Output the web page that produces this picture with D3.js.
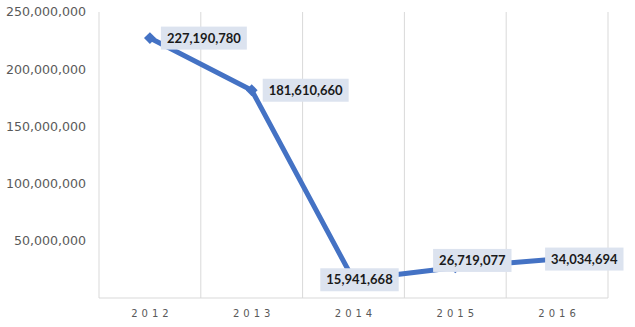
<!DOCTYPE html>
<html>
<head>
<meta charset="utf-8">
<script src="https://cdn.jsdelivr.net/npm/d3@7"></script>
<style>
  body { margin: 0; background: #fff; }
</style>
</head>
<body>
<div id="chart"></div>
<script>
const years = ["2012", "2013", "2014", "2015", "2016"];
const values = [227190780, 181610660, 15941668, 26719077, 34034694];
const yTicks = [50000000, 100000000, 150000000, 200000000, 250000000];
// label placement relative to its point
const labelPos = ["right", "right", "center", "above", "over"];

const width = 635, height = 327;
const margin = { top: 12, right: 27, bottom: 29, left: 99 };

const svg = d3.select("#chart").append("svg")
    .attr("width", width)
    .attr("height", height);

const x = d3.scaleBand().domain(years).range([margin.left, width - margin.right]);
const y = d3.scaleLinear().domain([0, 250000000]).range([height - margin.bottom, margin.top]);

// vertical gridlines at category boundaries
const bounds = years.map(d => x(d)).concat([x.range()[1]]);
svg.append("g").selectAll("line")
    .data(bounds)
    .enter().append("line")
    .attr("x1", d => d).attr("x2", d => d)
    .attr("y1", y(250000000)).attr("y2", y(0))
    .attr("stroke", "#d9d9d9").attr("stroke-width", 1);

// baseline
svg.append("line")
    .attr("x1", x.range()[0]).attr("x2", x.range()[1])
    .attr("y1", y(0)).attr("y2", y(0))
    .attr("stroke", "#d9d9d9");

// y axis labels
svg.append("g").selectAll("text")
    .data(yTicks)
    .enter().append("text")
    .attr("x", 86)
    .attr("y", d => y(d))
    .attr("dy", "0.35em")
    .attr("text-anchor", "end")
    .style("font-family", "DejaVu Sans, Verdana, sans-serif")
    .style("font-size", "12.6px")
    .style("fill", "#595959")
    .text(d => d3.format(",")(d));

// x axis labels
svg.append("g").selectAll("text")
    .data(years)
    .enter().append("text")
    .attr("x", d => x(d) + x.bandwidth() / 2 + 2)
    .attr("y", 317)
    .attr("text-anchor", "middle")
    .style("font-family", "DejaVu Sans, Verdana, sans-serif")
    .style("font-size", "10px")
    .style("letter-spacing", "4px")
    .style("fill", "#595959")
    .text(d => d);

const pts = years.map((d, i) => ({ year: d, value: values[i], pos: labelPos[i] }));
const cx = d => x(d.year) + x.bandwidth() / 2;

svg.append("path")
    .datum(pts)
    .attr("fill", "none")
    .attr("stroke", "#4472c4")
    .attr("stroke-width", 5)
    .attr("stroke-linejoin", "round")
    .attr("d", d3.line().x(cx).y(d => y(d.value)));

svg.append("g").selectAll("path")
    .data(pts)
    .enter().append("path")
    .attr("transform", d => `translate(${cx(d)},${y(d.value)}) rotate(45)`)
    .attr("d", d3.symbol().type(d3.symbolSquare).size(70))
    .attr("fill", "#4472c4");

// data labels
const labels = svg.append("g").selectAll("g")
    .data(pts)
    .enter().append("g");

labels.each(function(d) {
    const g = d3.select(this);
    const t = g.append("text")
        .style("font-family", "Lato, 'Open Sans', sans-serif")
        .style("font-size", "13px")
        .style("font-weight", "bold")
        .style("fill", "#1a1a1a")
        .attr("dy", "0.35em")
        .text(d3.format(",")(d.value));
    const w = t.node().getComputedTextLength();
    const bw = w + 12, bh = 23;
    let bx, by;
    if (d.pos === "right") {
        bx = cx(d) + 11; by = y(d.value) - bh / 2;
    } else if (d.pos === "center") {
        bx = cx(d) - bw / 2 + 6; by = y(d.value) - bh / 2;
    } else if (d.pos === "above") {
        bx = cx(d) - bw / 2 + 17; by = y(d.value) - bh / 2 - 7;
    } else {
        bx = cx(d) - 12; by = y(d.value) - bh / 2;
    }
    g.insert("rect", "text")
        .attr("x", bx).attr("y", by)
        .attr("width", bw).attr("height", bh)
        .attr("fill", "#dce3ef");
    t.attr("x", bx + 6).attr("y", by + bh / 2);
});
</script>
</body>
</html>
